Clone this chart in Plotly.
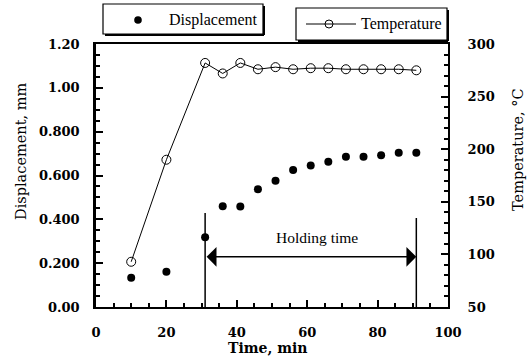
import plotly.graph_objects as go

# Sampling times (min)
times = [10, 20, 31, 36, 41, 46, 51, 56, 61, 66, 71, 76, 81, 86, 91]
# Specimen displacement (mm)
displacement = [0.134, 0.161, 0.318, 0.460, 0.458, 0.537, 0.576, 0.625,
                0.646, 0.663, 0.686, 0.686, 0.692, 0.704, 0.704]
# Temperature (deg C)
temperature = [93, 190, 282, 272, 282, 276, 278, 276, 277, 277,
               276, 276, 276, 276, 275]

# Holding period markers
hold_start = times[2]
hold_end = times[-1]

disp_tickvals = [0.0, 0.2, 0.4, 0.6, 0.8, 1.0, 1.2]
disp_ticktext = ["0.00", "0.200", "0.400", "0.600", "0.800", "1.00", "1.20"]
temp_tickvals = [50, 100, 150, 200, 250, 300]
time_tickvals = [0, 20, 40, 60, 80, 100]

W, H = 528, 357
ML, MR, MT, MB = 96, 80, 44, 50
PW, PH = W - ML - MR, H - MT - MB


def px(x):
    return (x - ML) / PW


def py(y):
    return (H - MB - y) / PH


TICK_FONT = dict(family="DejaVu Serif", size=13, color="black", weight="bold")
TEXT_FONT = dict(family="Liberation Serif", size=16, color="black")

fig = go.Figure()

fig.add_trace(go.Scatter(
    x=times, y=displacement, mode="markers", name="Displacement",
    marker=dict(symbol="circle", size=8, color="black"),
    showlegend=False,
))
fig.add_trace(go.Scatter(
    x=times, y=temperature, mode="lines+markers", name="Temperature",
    yaxis="y2",
    line=dict(color="black", width=1),
    marker=dict(symbol="circle-open", size=9, color="black",
                line=dict(width=1, color="black")),
    showlegend=False,
))

shapes = []
annotations = []

# Holding time bars and arrow
shapes.append(dict(type="line", xref="x", yref="y", x0=hold_start, x1=hold_start,
                   y0=0, y1=0.429, line=dict(color="black", width=1.5)))
shapes.append(dict(type="line", xref="x", yref="y", x0=hold_end, x1=hold_end,
                   y0=0, y1=0.406, line=dict(color="black", width=1.5)))
annotations.append(dict(
    xref="x", yref="y", axref="x", ayref="y",
    x=hold_end, y=0.229, ax=hold_start, ay=0.229,
    text="", showarrow=True, arrowside="end+start",
    arrowhead=1, arrowsize=2.2, arrowwidth=1.5, arrowcolor="black",
    standoff=0, startstandoff=0,
))
annotations.append(dict(
    xref="x", yref="y", x=62.7, y=0.316, text="Holding time",
    showarrow=False, font=dict(family="Liberation Serif", size=15.5, color="black"),
    xanchor="center", yanchor="middle",
))

# Axis titles
annotations.append(dict(
    xref="paper", yref="paper", x=px(21), y=py(152), text="Displacement, mm",
    textangle=-90, showarrow=False, xanchor="center", yanchor="middle",
    font=dict(family="DejaVu Serif", size=14.5, color="black"),
))
annotations.append(dict(
    xref="paper", yref="paper", x=px(518), y=py(150), text="Temperature, \u00b0C",
    textangle=-90, showarrow=False, xanchor="center", yanchor="middle",
    font=dict(family="DejaVu Serif", size=14.5, color="black"),
))
annotations.append(dict(
    xref="paper", yref="paper", x=px(268), y=py(348), text="Time, min",
    showarrow=False, xanchor="center", yanchor="middle",
    font=dict(family="DejaVu Serif", size=14, color="black", weight="bold"),
))


def legend_box(x0, y0, x1, y1):
    shapes.append(dict(type="rect", xref="paper", yref="paper",
                       x0=px(x0), x1=px(x1), y0=py(y0), y1=py(y1),
                       line=dict(color="black", width=1.2), fillcolor="white"))
    # drop shadow on the right and bottom edges
    shapes.append(dict(type="line", xref="paper", yref="paper",
                       x0=px(x1 + 1), x1=px(x1 + 1), y0=py(y0 + 2), y1=py(y1 + 1),
                       line=dict(color="black", width=2)))
    shapes.append(dict(type="line", xref="paper", yref="paper",
                       x0=px(x0 + 2), x1=px(x1 + 1), y0=py(y1 + 1), y1=py(y1 + 1),
                       line=dict(color="black", width=2)))


# Displacement legend
legend_box(103, 4, 263, 34)
shapes.append(dict(type="circle", xref="paper", yref="paper",
                   xsizemode="pixel", ysizemode="pixel",
                   xanchor=px(138), yanchor=py(20),
                   x0=-3.8, x1=3.8, y0=-3.8, y1=3.8,
                   fillcolor="black", line=dict(color="black", width=0)))
annotations.append(dict(xref="paper", yref="paper", x=px(213), y=py(20),
                        text="Displacement", showarrow=False,
                        xanchor="center", yanchor="middle", font=TEXT_FONT))

# Temperature legend
legend_box(296, 8, 447, 40)
shapes.append(dict(type="line", xref="paper", yref="paper",
                   x0=px(306), x1=px(356), y0=py(24), y1=py(24),
                   line=dict(color="black", width=1)))
shapes.append(dict(type="circle", xref="paper", yref="paper",
                   xsizemode="pixel", ysizemode="pixel",
                   xanchor=px(329), yanchor=py(24),
                   x0=-4, x1=4, y0=-4, y1=4,
                   line=dict(color="black", width=1)))
annotations.append(dict(xref="paper", yref="paper", x=px(401), y=py(24),
                        text="Temperature", showarrow=False,
                        xanchor="center", yanchor="middle", font=TEXT_FONT))


def minor_ticks(start, step):
    return dict(tickmode="linear", tick0=start, dtick=step, ticks="inside",
                ticklen=4, tickwidth=1.5, tickcolor="black", showgrid=False)


fig.update_layout(
    width=W, height=H,
    margin=dict(l=ML, r=MR, t=MT, b=MB, pad=0),
    paper_bgcolor="white", plot_bgcolor="white",
    showlegend=False,
    xaxis=dict(
        range=[0, 100], tickmode="array", tickvals=time_tickvals,
        ticks="inside", ticklen=7, tickwidth=2, tickcolor="black",
        minor=minor_ticks(0, 5),
        showline=True, linecolor="black", linewidth=2.2, mirror=True,
        showgrid=False, zeroline=False, tickfont=TICK_FONT,
        ticklabelstandoff=12,
    ),
    yaxis=dict(
        range=[0, 1.2], tickmode="array", tickvals=disp_tickvals,
        ticktext=disp_ticktext,
        ticks="inside", ticklen=7, tickwidth=2, tickcolor="black",
        minor=minor_ticks(0, 0.05),
        showline=True, linecolor="black", linewidth=2.5,
        showgrid=False, zeroline=False, tickfont=TICK_FONT,
        ticklabelstandoff=11,
    ),
    yaxis2=dict(
        range=[50, 300], tickmode="array", tickvals=temp_tickvals,
        overlaying="y", side="right",
        ticks="inside", ticklen=7, tickwidth=2, tickcolor="black",
        minor=minor_ticks(50, 10),
        showline=True, linecolor="black", linewidth=2,
        showgrid=False, zeroline=False, tickfont=TICK_FONT,
        ticklabelstandoff=15,
    ),
    shapes=shapes,
    annotations=annotations,
)

fig.write_html("out.html")
